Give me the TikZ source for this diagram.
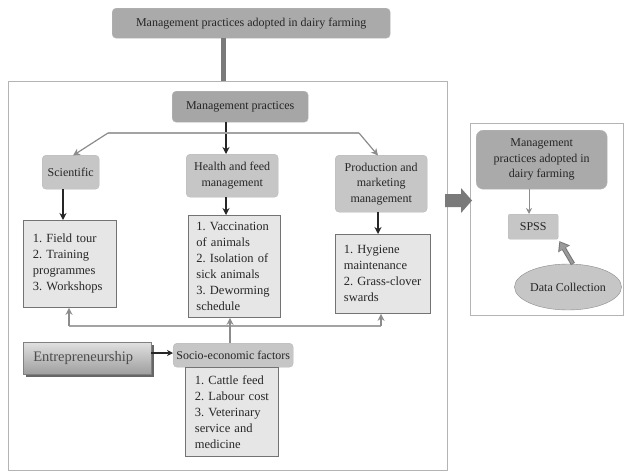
\documentclass[tikz,border=0pt]{standalone}
\usepackage{fontspec}
\setmainfont{Liberation Serif}
\usetikzlibrary{arrows.meta,shapes.geometric,shadows}
\definecolor{txt}{HTML}{262626}
\definecolor{darkbox}{HTML}{A6A6A6}
\definecolor{midbox}{HTML}{C6C6C6}
\definecolor{lightbox}{HTML}{E6E6E6}
\definecolor{framegray}{HTML}{B4B4B4}
\definecolor{linegray}{HTML}{8C8C8C}
\definecolor{bargray}{HTML}{7A7A7A}
\frenchspacing
\begin{document}
\begin{tikzpicture}[x=1pt,y=-1pt,
  every node/.style={text=txt,font=\fontsize{12}{15.5}\selectfont},
  base/.style={anchor=north west,inner sep=0pt,align=center},
  rbox/.style={base,rounded corners=4pt,draw=darkbox!80,line width=0.4pt},
  listbox/.style={base,draw=black!55,fill=lightbox,line width=0.8pt,align=left,font=\fontsize{12.5}{16}\selectfont},
  frm/.style={base,draw=framegray,line width=0.8pt},
  blk/.style={-{Stealth[length=7pt,width=7pt]},line width=1.2pt,color=black!85},
  gry/.style={-{Stealth[length=7pt,width=7pt]},line width=1.2pt,color=linegray},
  ]
\useasboundingbox (0,0) rectangle (631,471);
\fill[white] (0,0) rectangle (631,471);

% frames
\node[frm,minimum width=439pt,minimum height=389pt] (frameL) at (8,81) {};
\node[frm,minimum width=153pt,minimum height=192pt] (frameR) at (470,123) {};

% top
\node[rbox,fill=darkbox!95,minimum width=278pt,minimum height=30pt] (top) at (112,8) {Management practices adopted in dairy farming};
\coordinate (barx) at (223,0);
\draw[line width=5pt,color=bargray] (barx |- top.south) -- (barx |- frameL.north);

% management practices
\node[rbox,fill=darkbox,minimum width=136pt,minimum height=31pt] (mp) at (172,91) {Management practices};

\node[rbox,fill=midbox,minimum width=57pt,minimum height=34pt] (sci) at (42,155) {Scientific};
\node[rbox,fill=midbox,minimum width=92pt,minimum height=43pt] (hf) at (186,154) {Health and feed\\management};
\node[rbox,fill=midbox,minimum width=92pt,minimum height=57pt] (pm) at (335,155) {Production and\\marketing\\management};

\coordinate (c1) at (226,0);
\draw[blk] (c1 |- mp.south) -- (c1 |- hf.north);
\coordinate (hl) at (108,133);
\coordinate (hr) at (359,133);
\draw[line width=1.2pt,color=linegray!80] (hl) -- (hr);
\draw[gry] (hl) -- (73,155.5);
\draw[gry] (hr) -- (378,155.5);

% lists
\node[listbox,minimum width=93pt,minimum height=87pt,text width=90pt] (l1) at (23,220) {\hspace*{8pt}1. Field tour\\\hspace*{8pt}2. Training\\\hspace*{8pt}programmes\\\hspace*{8pt}3. Workshops};
\node[listbox,minimum width=92pt,minimum height=102pt,text width=90pt] (l2) at (188,215) {\hspace*{7pt}1. Vaccination\\\hspace*{7pt}of animals\\\hspace*{7pt}2. Isolation of\\\hspace*{7pt}sick animals\\\hspace*{7pt}3. Deworming\\\hspace*{7pt}schedule};
\node[listbox,minimum width=95pt,minimum height=79pt,text width=92pt] (l3) at (335,234) {\hspace*{7pt}1. Hygiene\\\hspace*{7pt}maintenance\\\hspace*{7pt}2. Grass-clover\\\hspace*{7pt}swards};

\coordinate (x1) at (63,0);
\coordinate (x3) at (378,0);
\draw[blk] (x1 |- sci.south) -- (x1 |- l1.north);
\draw[blk] (c1 |- hf.south) -- (c1 |- l2.north);
\draw[blk] (x3 |- pm.south) -- (x3 |- l3.north);

% socio-economic
\node[rbox,fill=midbox,minimum width=120pt,minimum height=24pt] (se) at (173,343) {Socio-economic factors};
\node[listbox,minimum width=93pt,minimum height=89pt,text width=90pt] (l4) at (185,367) {\hspace*{8pt}1. Cattle feed\\\hspace*{8pt}2. Labour cost\\\hspace*{8pt}3. Veterinary\\\hspace*{8pt}service and\\\hspace*{8pt}medicine};

\node[base,draw=black!50,top color=black!12,bottom color=black!38,
  drop shadow={shadow xshift=3pt,shadow yshift=-3pt,fill=black!60,opacity=1},
  minimum width=128pt,minimum height=32pt,font=\fontsize{14.5}{16}\selectfont,text=black!70] (ent) at (23,342) {Entrepreneurship\hspace*{8pt}};
\draw[-{Stealth[length=6pt,width=6pt]},line width=1.2pt,color=black!85] (ent.east |- 0,353) -- (se.west |- 0,353);

\coordinate (bl) at (69,326);
\coordinate (br) at (381,326);
\coordinate (x2) at (230,0);
\draw[line width=1.2pt,color=linegray!80] (bl) -- (br);
\draw[gry] (bl) -- (bl |- l1.south);
\draw[gry] (br) -- (br |- l3.south);
\draw[gry] (x2 |- se.north) -- (x2 |- l2.south);

% big arrow between frames
\fill[bargray] (445,194) -- (461,194) -- (461,188) -- (472,200.5) -- (461,213) -- (461,207) -- (445,207) -- cycle;

% right panel
\node[rbox,fill=darkbox!95,rounded corners=7pt,minimum width=131pt,minimum height=59pt] (mr) at (476,130) {Management\\practices adopted in\\dairy farming};
\node[rbox,fill=midbox,rounded corners=2pt,minimum width=50pt,minimum height=25pt] (spss) at (508,214) {SPSS};
\coordinate (x4) at (529,0);
\draw[-{Stealth[length=6pt,width=6pt]},line width=1pt,color=linegray] (x4 |- mr.south) -- (x4 |- spss.north);
\node[ellipse,draw=linegray,fill=midbox,minimum width=104pt,minimum height=46pt,inner sep=0pt] (dc) at (568,287) {Data Collection};
\draw[-{Triangle[length=9pt,width=13pt]},line width=4.5pt,color=black!55,shorten >=2pt] (dc.78) -- (spss.south east);
\draw[-{Triangle[length=7pt,width=10pt]},line width=2.5pt,color=black!40,shorten >=3.5pt,shorten <=0.8pt] (dc.78) -- (spss.south east);
\end{tikzpicture}
\end{document}
